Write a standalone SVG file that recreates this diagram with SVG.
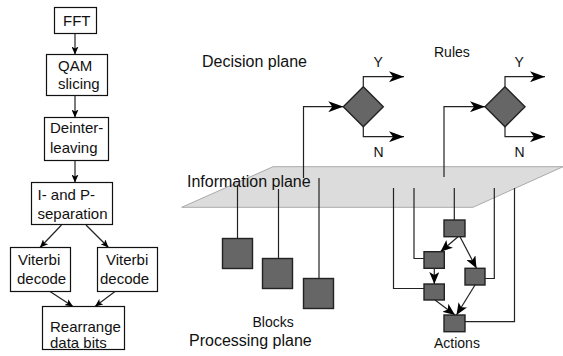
<svg xmlns="http://www.w3.org/2000/svg" width="563" height="356" viewBox="0 0 563 356">
<defs>
<style>
.box{fill:#fff;stroke:#111;stroke-width:1.2}
.blk{fill:#666;stroke:#222;stroke-width:1.4}
.ln{fill:none;stroke:#222;stroke-width:1.2}
.t15{font-family:"Liberation Sans",Arial,sans-serif;font-size:15px;fill:#111}
.t16{font-family:"Liberation Sans",Arial,sans-serif;font-size:16px;fill:#111}
.t14{font-family:"Liberation Sans",Arial,sans-serif;font-size:14px;fill:#111}
</style>
<marker id="ah" markerUnits="userSpaceOnUse" markerWidth="15" markerHeight="11" refX="15" refY="5.5" orient="auto">
<path d="M0,0 L15,5.5 L0,11 L4,5.5 z" fill="#000"/>
</marker>
<marker id="am" markerUnits="userSpaceOnUse" markerWidth="12" markerHeight="10" refX="12" refY="5" orient="auto">
<path d="M0,0 L12,5 L0,10 L3,5 z" fill="#000"/>
</marker>
<marker id="as" markerUnits="userSpaceOnUse" markerWidth="8" markerHeight="7" refX="8" refY="3.5" orient="auto">
<path d="M0,0 L8,3.5 L0,7 L2,3.5 z" fill="#000"/>
</marker>
</defs>

<!-- Left flow -->
<g id="fft"><rect class="box" x="54.5" y="7.5" width="42" height="26"/><text class="t15" x="63" y="25.5">FFT</text></g>
<g id="qam"><rect class="box" x="46.5" y="54.5" width="61" height="41"/><text class="t15" x="58" y="71">QAM</text><text class="t15" x="58" y="89">slicing</text></g>
<g id="deint"><rect class="box" x="44.5" y="117.5" width="64" height="43"/><text class="t15" x="50" y="133">Deinter-</text><text class="t15" x="50" y="153">leaving</text></g>
<g id="ipsep"><rect class="box" x="31.5" y="182.5" width="81" height="42"/><text class="t15" x="37.5" y="200">I- and P-</text><text class="t15" x="37.5" y="219">separation</text></g>
<g id="vit1"><rect class="box" x="10.5" y="247.5" width="60" height="44"/><text class="t15" x="18" y="264.5">Viterbi</text><text class="t15" x="17" y="283.5">decode</text></g>
<g id="vit2"><rect class="box" x="97.5" y="247.5" width="60" height="44"/><text class="t15" x="106" y="264.5">Viterbi</text><text class="t15" x="100" y="283.5">decode</text></g>
<g id="rearr"><rect class="box" x="42.5" y="306.5" width="82" height="43"/><text class="t15" x="50" y="331.5">Rearrange</text><text class="t15" x="50" y="348">data bits</text></g>

<!-- Planes and labels -->
<g id="info-plane"><polygon points="273,166.7 563,166.7 473,207.3 181.7,207.3" fill="#dcdcdc" stroke="#aaa" stroke-width="1"/></g>

<g id="connectors">
<!-- left column -->
<line class="ln" x1="75" y1="33.5" x2="75" y2="54.5" marker-end="url(#as)" stroke-width="1"/>
<line class="ln" x1="75" y1="95.5" x2="75" y2="117.5" marker-end="url(#as)" stroke-width="1"/>
<line class="ln" x1="75" y1="160.5" x2="75" y2="182.5" marker-end="url(#as)" stroke-width="1"/>
<line class="ln" x1="61.5" y1="225" x2="40" y2="247.5" marker-end="url(#as)" stroke-width="1"/>
<line class="ln" x1="86" y1="225" x2="108.5" y2="247.5" marker-end="url(#as)" stroke-width="1"/>
<line class="ln" x1="50" y1="291.5" x2="73" y2="306.5" marker-end="url(#as)" stroke-width="1"/>
<line class="ln" x1="115" y1="291.5" x2="95" y2="306.5" marker-end="url(#as)" stroke-width="1"/>
<!-- diamond 1 -->
<polyline class="ln" points="303.5,178 303.5,106.7 343.3,106.7" marker-end="url(#ah)"/>
<polyline class="ln" points="363.3,86.7 363.3,76.7 404,76.7" marker-end="url(#ah)"/>
<polyline class="ln" points="363.3,126.7 363.3,136.7 404,136.7" marker-end="url(#ah)"/>
<!-- diamond 2 -->
<polyline class="ln" points="444,177 444,106.7 485,106.7" marker-end="url(#ah)"/>
<polyline class="ln" points="505,86.7 505,76.7 545,76.7" marker-end="url(#ah)"/>
<polyline class="ln" points="505,126.7 505,136.7 545,136.7" marker-end="url(#ah)"/>
<!-- blocks -->
<line class="ln" x1="237.5" y1="185" x2="237.5" y2="238.5"/>
<line class="ln" x1="278.5" y1="189" x2="278.5" y2="258.5"/>
<line class="ln" x1="319" y1="178" x2="319" y2="278.5"/>
<!-- actions from plane -->
<polyline class="ln" points="393.5,188 393.5,288.5 424,288.5"/>
<polyline class="ln" points="414,188 414,258.5 424,258.5"/>
<line class="ln" x1="454.3" y1="188" x2="454.3" y2="220"/>
<polyline class="ln" points="494.3,188 494.3,278.5 485,278.5"/>
<polyline class="ln" points="514.5,188 514.5,321.7 465,321.7"/>
<!-- actions internal -->
<line class="ln" x1="458" y1="236.7" x2="440.5" y2="251.7" marker-end="url(#am)"/>
<line class="ln" x1="460" y1="236.7" x2="476.5" y2="268.3" marker-end="url(#am)"/>
<line class="ln" x1="434.3" y1="268.3" x2="434.3" y2="284" marker-end="url(#am)"/>
<line class="ln" x1="435" y1="300" x2="455" y2="315" marker-end="url(#am)"/>
<line class="ln" x1="475" y1="285" x2="456.5" y2="315" marker-end="url(#am)"/>
</g>

<g id="decision1"><polygon class="blk" points="363.3,86.7 383.3,106.7 363.3,126.7 343.3,106.7"/></g>
<g id="decision2"><polygon class="blk" points="505,86.7 525,106.7 505,126.7 485,106.7"/></g>

<g id="block1"><rect class="blk" x="222.5" y="238.5" width="30" height="30"/></g>
<g id="block2"><rect class="blk" x="262.5" y="258.5" width="30" height="30"/></g>
<g id="block3"><rect class="blk" x="303.5" y="278.5" width="30" height="30"/></g>

<g id="actA"><rect class="blk" x="444" y="220" width="21" height="16.7"/></g>
<g id="actB"><rect class="blk" x="424" y="251.7" width="20.3" height="16.6"/></g>
<g id="actC"><rect class="blk" x="465" y="268.3" width="20" height="16.7"/></g>
<g id="actD"><rect class="blk" x="424" y="284" width="20.3" height="16"/></g>
<g id="actE"><rect class="blk" x="444" y="315" width="21" height="16.7"/></g>

<g id="labels">
<text class="t16" x="202" y="67">Decision plane</text>
<text class="t16" x="187" y="187">Information plane</text>
<text class="t16" x="189" y="346">Processing plane</text>
<text class="t14" x="434" y="56.5">Rules</text>
<text class="t14" x="252.5" y="326.5">Blocks</text>
<text class="t14" x="434" y="348">Actions</text>
<text class="t14" x="373.5" y="66.5">Y</text>
<text class="t14" x="373.5" y="156.5">N</text>
<text class="t14" x="514.5" y="66.5">Y</text>
<text class="t14" x="514.5" y="156.5">N</text>
</g>
</svg>
